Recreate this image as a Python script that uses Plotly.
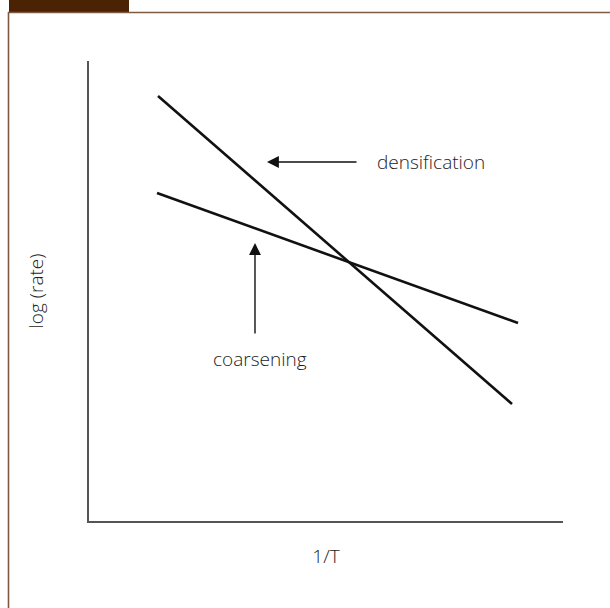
import plotly.graph_objects as go

# Schematic Arrhenius-type rates: log(rate) against 1/T
inv_T_densification = [1.456, 8.924]
log_rate_densification = [9.239, 2.543]
inv_T_coarsening = [1.435, 9.051]
log_rate_coarsening = [7.130, 4.304]

# Label arrows: (tail x, tail y, head x, head y)
densification_arrow = (5.675, 7.804, 3.755, 7.804)
coarsening_arrow = (3.502, 4.043, 3.502, 6.043)

W, H = 610, 608
L, R, T, B = 89, 47, 61, 87
PW, PH = W - L - R, H - T - B


def px(x):
    return (x - L) / PW


def py(y):
    return (H - B - y) / PH


fig = go.Figure()
for xs, ys in [(inv_T_densification, log_rate_densification),
               (inv_T_coarsening, log_rate_coarsening)]:
    fig.add_trace(go.Scatter(x=xs, y=ys, mode="lines",
                             line=dict(color="#111111", width=2.6),
                             hoverinfo="skip", showlegend=False))

font = dict(family="Open Sans", size=19, color="#1c1c1c", weight=300)

for (tx, ty, hx, hy) in [densification_arrow, coarsening_arrow]:
    fig.add_annotation(x=hx, y=hy, ax=tx, ay=ty, xref="x", yref="y",
                       axref="x", ayref="y", text="", showarrow=True,
                       arrowhead=2, arrowsize=1.7, arrowwidth=1.4,
                       arrowcolor="#111111", standoff=0, startstandoff=0)

fig.add_annotation(x=densification_arrow[0], y=densification_arrow[1],
                   xref="x", yref="y", text="densification", showarrow=False,
                   xanchor="left", xshift=17, font=font)
fig.add_annotation(x=coarsening_arrow[0], y=coarsening_arrow[1],
                   xref="x", yref="y", text="coarsening", showarrow=False,
                   xanchor="center", yshift=-24, xshift=5, font=font)

# Brown frame with header tab
frame = "#7d5b43"
fig.add_shape(type="rect", xref="paper", yref="paper",
              x0=px(9), x1=px(129), y0=py(13), y1=py(0),
              fillcolor="#4b2203", line=dict(width=0), layer="below")
fig.add_shape(type="line", xref="paper", yref="paper",
              x0=px(8), x1=px(612), y0=py(12.5), y1=py(12.5),
              line=dict(color=frame, width=1.6))
fig.add_shape(type="line", xref="paper", yref="paper",
              x0=px(8.5), x1=px(8.5), y0=py(12), y1=py(612),
              line=dict(color=frame, width=1.6))

axis = dict(showgrid=False, zeroline=False, showticklabels=False,
            ticks="", showline=True, linecolor="#555555", linewidth=2,
            range=[0, 10], fixedrange=True)
fig.update_layout(
    width=W, height=H,
    margin=dict(l=L, r=R, t=T, b=B),
    paper_bgcolor="white", plot_bgcolor="white",
    xaxis=dict(axis, title=dict(text="1/T", font=font, standoff=28)),
    yaxis=dict(axis, title=dict(text="log (rate)", font=font, standoff=38)),
)

fig.write_html("out.html", config={"displayModeBar": False})
